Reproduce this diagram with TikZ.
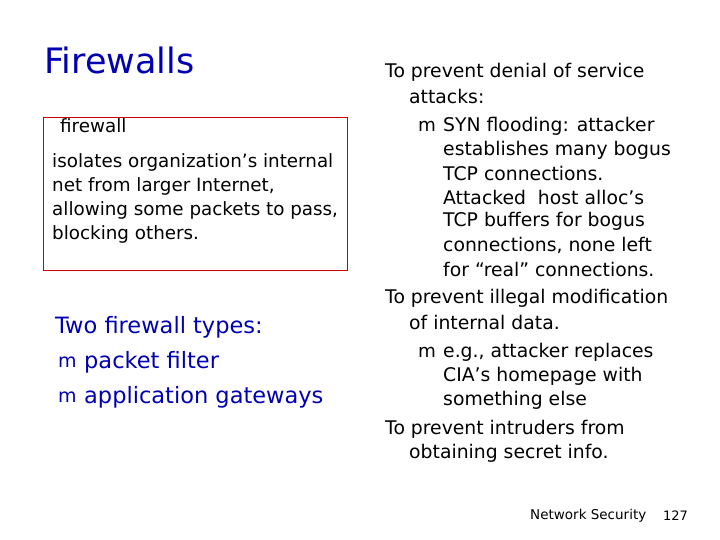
\documentclass[tikz,border=0pt]{standalone}
\usepackage{fontspec}
\setmainfont{DejaVu Sans}
\begin{document}
\begin{tikzpicture}[x=1pt,y=-1pt,
  t/.style={anchor=west,inner sep=0pt,font=\fontsize{18.8}{20}\selectfont},
  s/.style={anchor=west,inner sep=0pt,font=\fontsize{18.3}{20}\selectfont},
  b/.style={anchor=west,inner sep=0pt,font=\fontsize{19}{24}\selectfont,text=blue!70!black},
  bl/.style={anchor=west,inner sep=0pt,font=\fontsize{22.5}{26}\selectfont,text=blue!70!black}]
\useasboundingbox (0,0) rectangle (720,540);
\node[anchor=west,inner sep=0pt,font=\fontsize{35}{38}\selectfont,text=blue!70!black] (title) at (44,60) {Firewalls};
\draw[red!80!black,line width=1pt] (43,118) rectangle (347,270);
\node[s,fill=white,inner xsep=3pt] (fw) at (57,126) {firewall};
\node[s] (i1) at (52,162) {isolates organization’s internal};
\node[s] (i2) at (52,186) {net from larger Internet,};
\node[s] (i3) at (52,210) {allowing some packets to pass,};
\node[s] (i4) at (52,234) {blocking others.};
\node[bl] (two) at (55,327) {Two firewall types:};
\node[b] (m1) at (58,362) {m};
\node[bl] (pf) at (84,362) {packet filter};
\node[b] (m2) at (58,397) {m};
\node[bl] (ag) at (84,397) {application gateways};
\node[t] (r1) at (385,72) {To prevent denial of service};
\node[t] (r2) at (409,96) {attacks:};
\node[s] (m3) at (418,126) {m};
\node[t] (r3) at (443,126) {SYN flooding: attacker};
\node[t] (r4) at (443,150) {establishes many bogus};
\node[t] (r5) at (443,173) {TCP connections.};
\node[t] (r6) at (443,197) {Attacked\ \ host alloc’s};
\node[t] (r7) at (443,221) {TCP buffers for bogus};
\node[t] (r8) at (443,245) {connections, none left};
\node[t] (r9) at (443,269) {for “real” connections.};
\node[t] (r10) at (385,298) {To prevent illegal modification};
\node[t] (r11) at (409,322) {of internal data.};
\node[s] (m4) at (418,352) {m};
\node[t] (r12) at (443,352) {e.g., attacker replaces};
\node[t] (r13) at (443,376) {CIA’s homepage with};
\node[t] (r14) at (443,400) {something else};
\node[t] (r15) at (385,429) {To prevent intruders from};
\node[t] (r16) at (409,453) {obtaining secret info.};
\node[anchor=west,inner sep=0pt,font=\fontsize{13.5}{15}\selectfont] (ns) at (530,516) {Network Security};
\node[anchor=west,inner sep=0pt,font=\fontsize{13}{15}\selectfont] (pg) at (663,516) {127};
\end{tikzpicture}
\end{document}
